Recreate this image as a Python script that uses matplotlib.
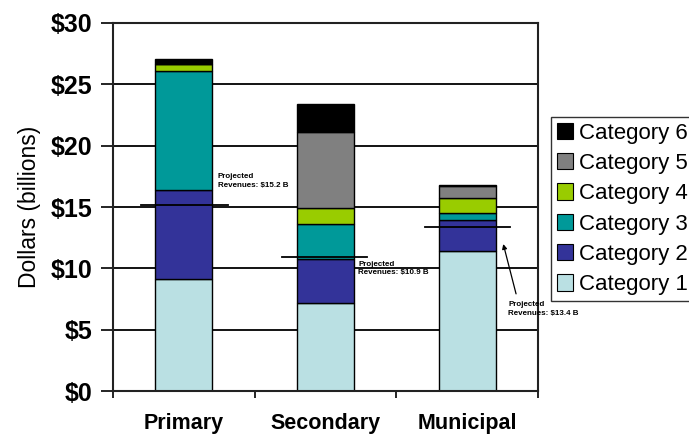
import numpy as np
import matplotlib
matplotlib.use("Agg")
import matplotlib.pyplot as plt
from matplotlib.patches import Patch

plt.rcParams['font.family'] = ['Liberation Sans', 'DejaVu Sans']

# Data (billions of dollars)
groups = ["Primary", "Secondary", "Municipal"]
cat_names = ["Category 1", "Category 2", "Category 3", "Category 4", "Category 5", "Category 6"]
cat1 = [9.1, 7.2, 11.4]
cat2 = [7.3, 3.6, 2.5]
cat3 = [9.7, 2.8, 0.6]
cat4 = [0.55, 1.3, 1.2]
cat5 = [0.0, 6.2, 1.0]
cat6 = [0.4, 2.3, 0.1]
projected = [15.2, 10.9, 13.4]
colors = ["#bae0e3", "#333399", "#009999", "#99cc00", "#808080", "#000000"]

series = [cat1, cat2, cat3, cat4, cat5, cat6]

fig = plt.figure(figsize=(6.89, 4.36), dpi=100)
ax = fig.add_axes([113 / 689, 1 - 391 / 436, 425 / 689, 368 / 436])

x = np.arange(len(groups))
ax.set_ylim(0, 30)
ax.set_xlim(-0.5, 2.5)

# black horizontal gridlines behind bars
for yv in [5, 10, 15, 20, 25]:
    ax.axhline(yv, color="black", lw=1.3, zorder=0)

bottom = np.zeros(len(groups))
for vals, col in zip(series, colors):
    vals = np.array(vals)
    ax.bar(x, vals, width=0.40, bottom=bottom, color=col, edgecolor="black",
           linewidth=1.0, zorder=2)
    bottom += vals

# projected revenue markers
line_spans = [(-0.30, 0.31), (0.69, 1.29), (1.70, 2.30)]
for (x0, x1), pv in zip(line_spans, projected):
    ax.plot([x0, x1], [pv, pv], color="black", lw=1.3, zorder=3)

tfont = dict(fontsize=5.8, fontweight="bold", va="center", ha="left", linespacing=1.3)
ax.text(0.24, 17.1, "Projected\nRevenues: $%.1f B" % projected[0], zorder=4, **tfont)
ax.text(1.23, 10.0, "Projected\nRevenues: $%.1f B" % projected[1], zorder=4, **tfont)
ax.text(2.29, 6.7, "Projected\nRevenues: $%.1f B" % projected[2], zorder=4,
        clip_on=False, **tfont)
ax.annotate("", xy=(2.25, 12.2), xytext=(2.35, 7.7),
            arrowprops=dict(arrowstyle="-|>", color="black", lw=0.9,
                            mutation_scale=7), annotation_clip=False)

# axes styling
ax.set_yticks([0, 5, 10, 15, 20, 25, 30])
ax.set_yticklabels(["$%d" % v for v in range(0, 31, 5)], fontsize=18, fontweight="bold")
ax.tick_params(axis="y", direction="out", length=9, width=1.2, pad=6)
ax.set_xticks(x)
ax.set_xticklabels(groups, fontsize=15.5, fontweight="bold")
ax.set_xticks([-0.5, 0.5, 1.5, 2.5], minor=True)
ax.tick_params(axis="x", which="major", length=0, pad=16)
ax.tick_params(axis="x", which="minor", direction="out", length=5, width=1.2)
ax.set_ylabel("Dollars (billions)", fontsize=16.5, labelpad=7)
for sp in ax.spines.values():
    sp.set_linewidth(1.5)
    sp.set_color("#222222")

handles = [Patch(facecolor=c, edgecolor="black", linewidth=0.8) for c in colors]
leg = fig.legend(handles[::-1], cat_names[::-1], loc="upper left",
                 bbox_to_anchor=(551 / 689, 1 - 117 / 436), borderaxespad=0,
                 fontsize=16, frameon=True, fancybox=False, edgecolor="black",
                 handlelength=0.75, handleheight=0.75, handletextpad=0.25,
                 labelspacing=0.42, borderpad=0.25)
leg.get_frame().set_linewidth(1.0)

fig.savefig("out.png", dpi=100)
